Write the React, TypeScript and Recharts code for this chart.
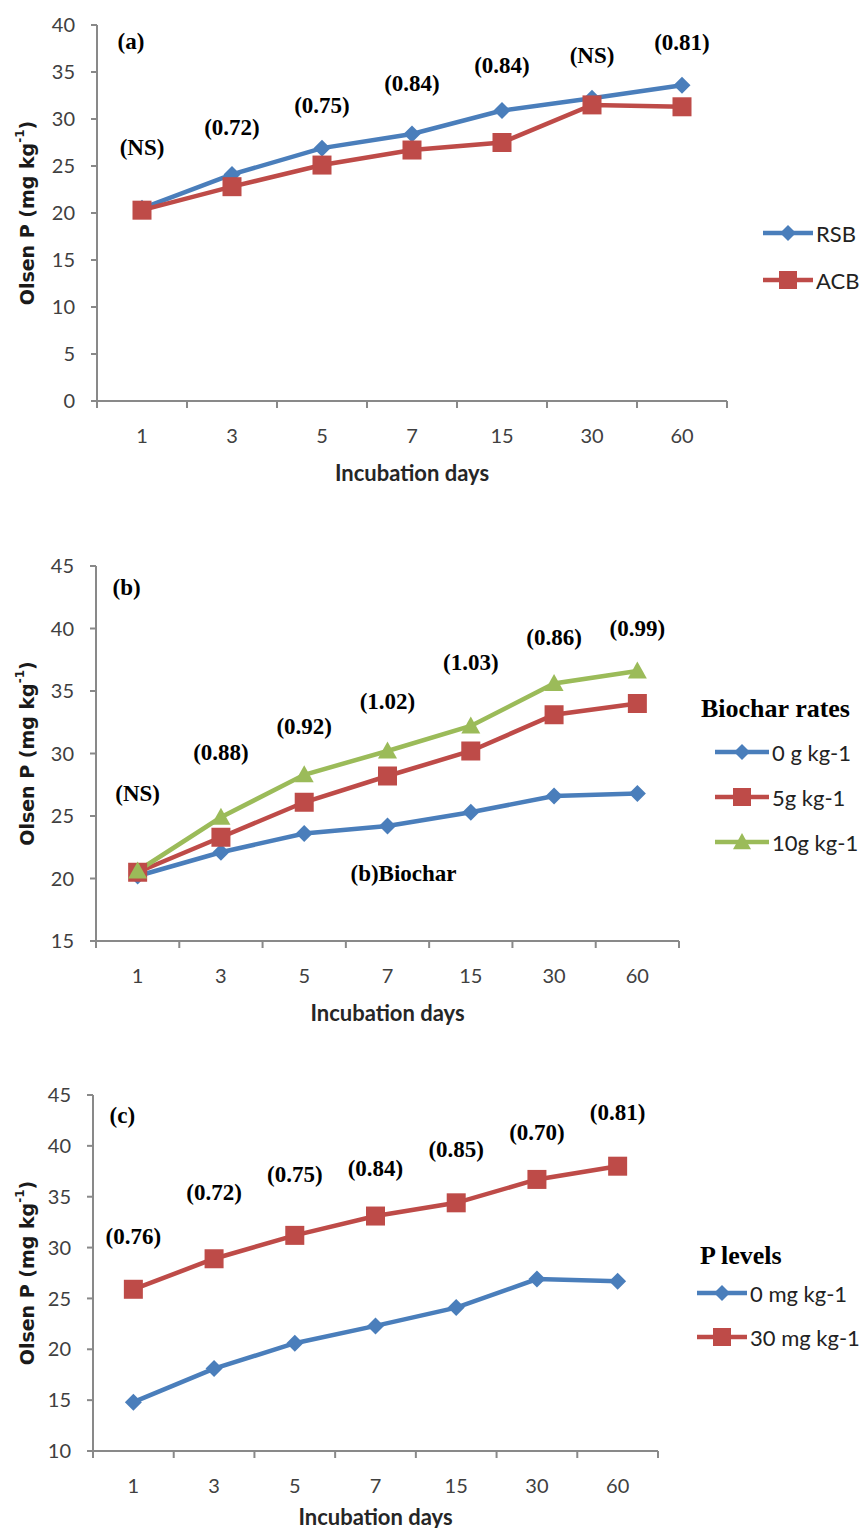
import { LineChart, Line, XAxis, YAxis, Legend, ReferenceDot, Label } from 'recharts'

const days = ['1', '3', '5', '7', '15', '30', '60']

// (a) biochar types
const rsb = [20.5, 24.1, 26.9, 28.4, 30.9, 32.2, 33.6]
const acb = [20.3, 22.8, 25.1, 26.7, 27.5, 31.5, 31.3]
const notesA = ['(NS)', '(0.72)', '(0.75)', '(0.84)', '(0.84)', '(NS)', '(0.81)']
const notesAY = [27.0, 29.1, 31.4, 33.8, 35.7, 36.8, 38.1]
const ticksA = [0, 5, 10, 15, 20, 25, 30, 35, 40]

// (b) biochar rates
const rate0 = [20.2, 22.1, 23.6, 24.2, 25.3, 26.6, 26.8]
const rate5 = [20.5, 23.3, 26.1, 28.2, 30.2, 33.1, 34.0]
const rate10 = [20.6, 24.9, 28.3, 30.2, 32.2, 35.6, 36.6]
const notesB = ['(NS)', '(0.88)', '(0.92)', '(1.02)', '(1.03)', '(0.86)', '(0.99)']
const notesBY = [26.8, 30.1, 32.2, 34.2, 37.3, 39.3, 40.0]
const ticksB = [15, 20, 25, 30, 35, 40, 45]

// (c) P levels
const p0 = [14.8, 18.1, 20.6, 22.3, 24.1, 26.9, 26.7]
const p30 = [25.9, 28.9, 31.2, 33.1, 34.4, 36.7, 38.0]
const notesC = ['(0.76)', '(0.72)', '(0.75)', '(0.84)', '(0.85)', '(0.70)', '(0.81)']
const notesCY = [31.1, 35.4, 37.2, 37.8, 39.6, 41.3, 43.3]
const ticksC = [10, 15, 20, 25, 30, 35, 40, 45]

const BLUE = '#4a7ebb'
const RED = '#be4b48'
const GREEN = '#9bbb59'
const AXIS = '#898989'
const TICK_FONT = 'Lato, "Open Sans", sans-serif'
const SERIF = '"Liberation Serif", "DejaVu Serif", serif'

type Shape = 'diamond' | 'square' | 'triangle'

function Marker({ shape, cx, cy, color, size }: { shape: Shape; cx: number; cy: number; color: string; size: number }) {
  if (cx == null || cy == null) return null
  const h = size / 2
  if (shape === 'diamond')
    return <polygon points={`${cx},${cy - h} ${cx + h},${cy} ${cx},${cy + h} ${cx - h},${cy}`} fill={color} />
  if (shape === 'square') return <rect x={cx - h} y={cy - h} width={size} height={size} fill={color} />
  return <polygon points={`${cx},${cy - h} ${cx + h},${cy + h * 0.8} ${cx - h},${cy + h * 0.8}`} fill={color} />
}

const markerSize: Record<Shape, number> = { diamond: 17, square: 19, triangle: 19 }

interface Series {
  key: string
  name: string
  color: string
  shape: Shape
}

interface LegendCfg {
  left: number
  top: number
  title?: string
  titleX?: number
  titleY?: number
  rowY: number
  gap: number
  lineX: number
  lineLen: number
  width: number
  height: number
}

function LegendBox({ series, cfg }: { series: Series[]; cfg: LegendCfg }) {
  return (
    <svg width={cfg.width} height={cfg.height} style={{ display: 'block', overflow: 'visible' }}>
      {cfg.title && (
        <text x={cfg.titleX} y={cfg.titleY} dominantBaseline="central" fontFamily={SERIF} fontWeight="bold" fontSize={26} fill="#000">
          {cfg.title}
        </text>
      )}
      {series.map((s, i) => {
        const y = cfg.rowY + i * cfg.gap
        const mid = cfg.lineX + cfg.lineLen / 2
        return (
          <g key={s.key}>
            <line x1={cfg.lineX} x2={cfg.lineX + cfg.lineLen} y1={y} y2={y} stroke={s.color} strokeWidth={4.5} />
            <Marker shape={s.shape} cx={mid} cy={y} color={s.color} size={markerSize[s.shape] - 1} />
            <text x={cfg.lineX + cfg.lineLen + 3} y={y} dominantBaseline="central" fontFamily={TICK_FONT} fontSize={22} fill="#222">
              {s.name}
            </text>
          </g>
        )
      })}
    </svg>
  )
}

function noteContent(text: string, dx = 0) {
  return (props: any) => {
    const vb = props.viewBox || {}
    const cx = (vb.x ?? 0) + (vb.width ?? 0) / 2
    const cy = (vb.y ?? 0) + (vb.height ?? 0) / 2
    return (
      <text x={cx + dx} y={cy} textAnchor="middle" dominantBaseline="central" fontFamily={SERIF} fontWeight="bold" fontSize={23} fill="#000">
        {text}
      </text>
    )
  }
}

interface PanelProps {
  top: number
  height: number
  marginTop: number
  marginRight: number
  yWidth: number
  xHeight: number
  titleGap: number
  domain: [number, number]
  ticks: number[]
  series: Series[]
  values: number[][]
  notes: string[]
  notesY: number[]
  panel: string
  panelY: number
  legend: LegendCfg
  extra?: { text: string; x: string; y: number; dx: number }
}

function Panel(p: PanelProps) {
  const width = 861
  const plotW = width - p.yWidth - p.marginRight
  const band = plotW / days.length
  const rows = days.map((d, i) => {
    const row: Record<string, string | number> = { day: d }
    p.series.forEach((s, k) => {
      row[s.key] = p.values[k][i]
    })
    return row
  })

  const DayTick = (t: any) => {
    const { x, y, payload, index } = t
    return (
      <g>
        <line x1={x - band / 2} x2={x - band / 2} y1={y} y2={y + 7} stroke={AXIS} strokeWidth={2} />
        {index === days.length - 1 && (
          <line x1={x + band / 2} x2={x + band / 2} y1={y} y2={y + 7} stroke={AXIS} strokeWidth={2} />
        )}
        <text x={x} y={y + 34} textAnchor="middle" dominantBaseline="central" fontFamily={TICK_FONT} fontSize={20} fill="#404040">
          {payload.value}
        </text>
      </g>
    )
  }

  const yLabel = (props: any) => {
    const vb = props.viewBox || {}
    const cx = 27
    const cy = vb.y + vb.height / 2
    return (
      <text
        x={cx}
        y={cy}
        transform={`rotate(-90 ${cx} ${cy})`}
        textAnchor="middle"
        dominantBaseline="central"
        fontFamily='"DejaVu Sans", sans-serif'
        fontWeight="bold"
        fontSize={19}
        fill="#1a1a1a"
      >
        <tspan>Olsen P (mg kg</tspan>
        <tspan dy={-7} fontSize={12}>-1</tspan>
        <tspan dy={7}>)</tspan>
      </text>
    )
  }

  const xLabel = (props: any) => {
    const vb = props.viewBox || {}
    return (
      <text
        x={vb.x + vb.width / 2}
        y={vb.y + p.titleGap}
        textAnchor="middle"
        dominantBaseline="central"
        fontFamily={TICK_FONT}
        fontWeight="bold"
        fontSize={22}
        fill="#262626"
      >
        Incubation days
      </text>
    )
  }

  return (
    <div style={{ position: 'absolute', left: 0, top: p.top }}>
      <LineChart width={width} height={p.height} data={rows} margin={{ top: p.marginTop, right: p.marginRight, bottom: 0, left: 0 }}>
        <XAxis
          dataKey="day"
          height={p.xHeight}
          padding={{ left: band / 2, right: band / 2 }}
          stroke={AXIS}
          strokeWidth={2}
          tickLine={false}
          tickSize={0}
          tickMargin={0}
          interval={0}
          tick={DayTick}
        >
          <Label content={xLabel} />
        </XAxis>
        <YAxis
          width={p.yWidth}
          domain={p.domain}
          ticks={p.ticks}
          interval={0}
          stroke={AXIS}
          strokeWidth={2}
          tickSize={6}
          tickMargin={16}
          tick={{ fill: '#404040', fontSize: 20, fontFamily: TICK_FONT }}
        >
          <Label content={yLabel} />
        </YAxis>
        <Legend
          layout="horizontal"
          align="center"
          verticalAlign="middle"
          wrapperStyle={{ left: p.legend.left, top: p.legend.top, width: p.legend.width, height: p.legend.height }}
          content={() => <LegendBox series={p.series} cfg={p.legend} />}
        />
        {p.series.map((s) => (
          <Line
            key={s.key}
            dataKey={s.key}
            name={s.name}
            type="linear"
            stroke={s.color}
            strokeWidth={4.5}
            legendType={s.shape}
            isAnimationActive={false}
            activeDot={false}
            dot={(d: any) => <Marker key={`${s.key}-${d.index}`} shape={s.shape} cx={d.cx} cy={d.cy} color={s.color} size={markerSize[s.shape]} />}
          />
        ))}
        {p.notes.map((n, i) => (
          <ReferenceDot key={`note-${i}`} x={days[i]} y={p.notesY[i]} r={0} fill="none" stroke="none" ifOverflow="visible" label={<Label content={noteContent(n)} />} />
        ))}
        <ReferenceDot x={days[0]} y={p.panelY} r={0} fill="none" stroke="none" ifOverflow="visible" label={<Label content={noteContent(p.panel, -11)} />} />
        {p.extra && (
          <ReferenceDot x={p.extra.x} y={p.extra.y} r={0} fill="none" stroke="none" ifOverflow="visible" label={<Label content={noteContent(p.extra.text, p.extra.dx)} />} />
        )}
      </LineChart>
    </div>
  )
}

const seriesA: Series[] = [
  { key: 'rsb', name: 'RSB', color: BLUE, shape: 'diamond' },
  { key: 'acb', name: 'ACB', color: RED, shape: 'square' },
]
const seriesB: Series[] = [
  { key: 'r0', name: '0 g kg-1', color: BLUE, shape: 'diamond' },
  { key: 'r5', name: '5g kg-1', color: RED, shape: 'square' },
  { key: 'r10', name: '10g kg-1', color: GREEN, shape: 'triangle' },
]
const seriesC: Series[] = [
  { key: 'p0', name: '0 mg kg-1', color: BLUE, shape: 'diamond' },
  { key: 'p30', name: '30 mg kg-1', color: RED, shape: 'square' },
]

export default function App() {
  return (
    <div style={{ position: 'absolute', left: 0, top: 0, width: 861, height: 1528, background: '#fff', overflow: 'hidden' }}>
      <Panel
        top={0}
        height={500}
        marginTop={25}
        marginRight={134}
        yWidth={97}
        xHeight={99}
        titleGap={71}
        domain={[0, 40]}
        ticks={ticksA}
        series={seriesA}
        values={[rsb, acb]}
        notes={notesA}
        notesY={notesAY}
        panel="(a)"
        panelY={38.2}
        legend={{ left: 760, top: 200, rowY: 33, gap: 47, lineX: 3, lineLen: 50, width: 100, height: 110 }}
      />
      <Panel
        top={540}
        height={500}
        marginTop={26}
        marginRight={182}
        yWidth={96}
        xHeight={99}
        titleGap={71}
        domain={[15, 45]}
        ticks={ticksB}
        series={seriesB}
        values={[rate0, rate5, rate10]}
        notes={notesB}
        notesY={notesBY}
        panel="(b)"
        panelY={43.3}
        legend={{ left: 698, top: 140, title: 'Biochar rates', titleX: 3, titleY: 28, rowY: 72, gap: 45, lineX: 17, lineLen: 54, width: 163, height: 185 }}
        extra={{ text: '(b)Biochar', x: '7', y: 20.4, dx: 16 }}
      />
      <Panel
        top={1060}
        height={468}
        marginTop={35}
        marginRight={203}
        yWidth={93}
        xHeight={77}
        titleGap={65}
        domain={[10, 45]}
        ticks={ticksC}
        series={seriesC}
        values={[p0, p30]}
        notes={notesC}
        notesY={notesCY}
        panel="(c)"
        panelY={43.0}
        legend={{ left: 695, top: 165, title: 'P levels', titleX: 5, titleY: 30, rowY: 68, gap: 44, lineX: 2, lineLen: 50, width: 166, height: 135 }}
      />
    </div>
  )
}
